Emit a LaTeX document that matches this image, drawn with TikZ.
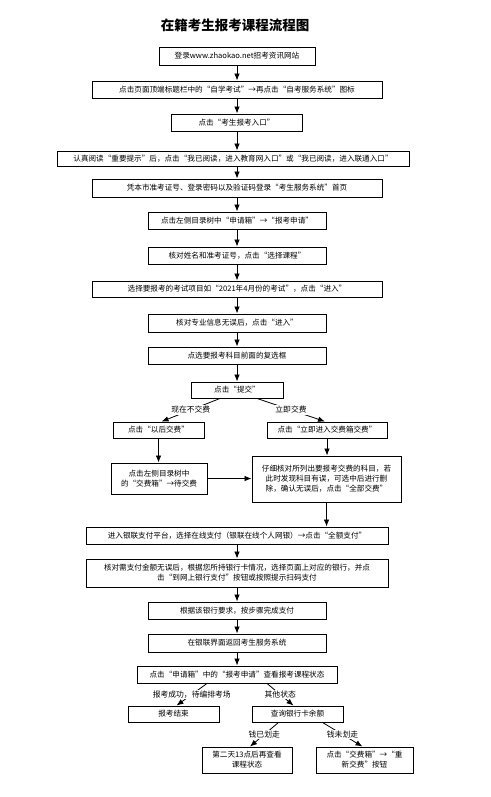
\documentclass[tikz,border=0pt]{standalone}
\usepackage{fontspec}
\setmainfont{Noto Sans CJK SC}
\usetikzlibrary{arrows.meta}
\tikzset{
  box/.style={draw=black, line width=0.9pt, fill=white, inner sep=0pt, align=center,
    font=\fontsize{7.6}{10}\selectfont},
  arr/.style={line width=0.8pt, -{Latex[length=7pt,width=5.5pt]}},
  lbl/.style={fill=white, inner sep=1pt, font=\fontsize{7.8}{10}\selectfont}
}
\begin{document}
\begin{tikzpicture}[x=1pt,y=1pt]
\useasboundingbox[fill=white] (0,0) rectangle (490,-797);
\node[font=\fontsize{13.5}{16}\selectfont\bfseries] (title) at (235,-25) {在籍考生报考课程流程图};
\node[box, minimum width=156, minimum height=18] (n1) at (237,-56) {登录www.zhaokao.net招考资讯网站};
\node[box, minimum width=290, minimum height=17] (n2) at (237,-89.5) {点击页面顶端标题栏中的“自学考试”→再点击“自考服务系统”图标};
\node[box, minimum width=131, minimum height=17] (n3) at (236.5,-122.5) {点击“考生报考入口”};
\node[box, minimum width=352, minimum height=15] (n4) at (233,-158.5) {认真阅读“重要提示”后，点击“我已阅读，进入教育网入口”或“我已阅读，进入联通入口”};
\node[box, minimum width=290, minimum height=18] (n5) at (237,-188) {凭本市准考证号、登录密码以及验证码登录“考生服务系统”首页};
\node[box, minimum width=178, minimum height=17] (n6) at (237,-220.5) {点击左侧目录树中“申请箱”→“报考申请”};
\node[box, minimum width=178, minimum height=17] (n7) at (237,-255.5) {核对姓名和准考证号，点击“选择课程”};
\node[box, minimum width=290, minimum height=16] (n8) at (237,-289) {选择要报考的考试项目如“2021年4月份的考试”，点击“进入”};
\node[box, minimum width=178, minimum height=18] (n9) at (237,-323) {核对专业信息无误后，点击“进入”};
\node[box, minimum width=178, minimum height=17] (n10) at (237,-355.5) {点选要报考科目前面的复选框};
\node[box, minimum width=92, minimum height=16] (n11) at (237,-390) {点击“提交”};
\node[box, minimum width=91, minimum height=16] (n12) at (158.5,-430) {点击“以后交费”};
\node[box, minimum width=120, minimum height=16] (n13) at (327,-430) {点击“立即进入交费箱交费”};
\node[box, minimum width=96, minimum height=31] (n14) at (159,-478.5) {点击左侧目录树中\\的“交费箱”→待交费};
\node[box, minimum width=149, minimum height=46] (n15) at (326.5,-479) {仔细核对所列出要报考交费的科目，若\\此时发现科目有误，可选中后进行删\\除，确认无误后，点击“全部交费”};
\node[box, minimum width=302, minimum height=17] (n16) at (237,-535.5) {进入银联支付平台，选择在线支付（银联在线个人网银）→点击“全额支付”};
\node[box, minimum width=302, minimum height=28] (n17) at (237,-573) {核对需支付金额无误后，根据您所持银行卡情况，选择页面上对应的银行，并点\\击“到网上银行支付”按钮或按照提示扫码支付};
\node[box, minimum width=178, minimum height=17] (n18) at (237,-610.5) {根据该银行要求，按步骤完成支付};
\node[box, minimum width=178, minimum height=18] (n19) at (237,-643) {在银联界面返回考生服务系统};
\node[box, minimum width=200, minimum height=17] (n20) at (237,-674.5) {点击“申请箱”中的“报考申请”查看报考课程状态};
\node[box, minimum width=91, minimum height=16] (n21) at (173.5,-714) {报考结束};
\node[box, minimum width=91, minimum height=16] (n22) at (297.5,-714) {查询银行卡余额};
\node[box, minimum width=90, minimum height=26] (n23) at (247,-760) {第二天13点后再查看\\课程状态};
\node[box, minimum width=97, minimum height=26] (n24) at (364.5,-760) {点击“交费箱”→“重\\新交费”按钮};

\foreach \a/\b in {n1/n2,n2/n3,n3/n4,n4/n5,n5/n6,n6/n7,n7/n8,n8/n9,n9/n10,n10/n11,
  n16/n17,n17/n18,n18/n19,n19/n20}
  \draw[arr] (n1.south |- \a.south) -- (n1.south |- \b.north);
\draw[arr] (n12.south) -- (n12.south |- n14.north);
\draw[arr] (n13.south) -- (n13.south |- n15.north);
\draw[arr] (n15.south) -- (n15.south |- n16.north);

\draw[arr] ([xshift=-17pt]n11.south) -- node[lbl]{现在不交费} ([xshift=3pt]n12.north);
\draw[arr] ([xshift=20pt]n11.south) -- node[lbl]{立即交费} ([xshift=-2pt]n13.north);
\draw[arr] (n14.east) -- (n14.east -| n15.west);
\draw[arr] ([xshift=-30pt]n20.south) -- node[lbl]{报考成功，待编排考场} ([xshift=3pt]n21.north);
\draw[arr] ([xshift=30pt]n20.south) -- node[lbl]{其他状态} ([xshift=-4pt]n22.north);
\draw[arr] ([xshift=-19pt]n22.south) -- node[lbl]{钱已划走} ([xshift=3pt]n23.north);
\draw[arr] ([xshift=25pt]n22.south) -- node[lbl]{钱未划走} ([xshift=-2pt]n24.north);
\end{tikzpicture}
\end{document}
